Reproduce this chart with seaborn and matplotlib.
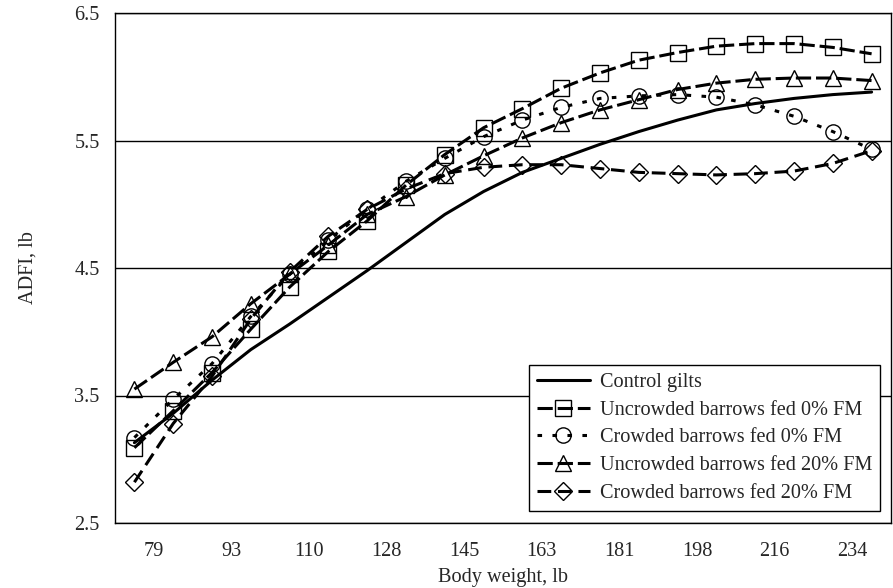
import matplotlib
matplotlib.use("Agg")
import matplotlib.pyplot as plt
import numpy as np
import pandas as pd
import seaborn as sns

tick_labels = ["79", "93", "110", "128", "145", "163", "181", "198", "216", "234"]

control_gilts = [3.13, 3.36, 3.62, 3.86, 4.06, 4.27, 4.48, 4.70, 4.92, 5.10,
                 5.25, 5.36, 5.47, 5.57, 5.66, 5.74, 5.79, 5.83, 5.86, 5.88]
uncrowded_0 = [3.09, 3.38, 3.68, 4.02, 4.35, 4.63, 4.87, 5.15, 5.39, 5.60,
               5.75, 5.91, 6.03, 6.13, 6.19, 6.24, 6.26, 6.26, 6.23, 6.18]
crowded_0 = [3.17, 3.47, 3.75, 4.12, 4.45, 4.72, 4.96, 5.18, 5.36, 5.53,
             5.66, 5.76, 5.83, 5.85, 5.86, 5.84, 5.78, 5.69, 5.57, 5.43]
uncrowded_20 = [3.55, 3.76, 3.96, 4.22, 4.45, 4.68, 4.92, 5.06, 5.23, 5.38,
                5.52, 5.64, 5.74, 5.82, 5.90, 5.95, 5.98, 5.99, 5.99, 5.97]
crowded_20 = [2.82, 3.28, 3.65, 4.10, 4.47, 4.75, 4.96, 5.12, 5.24, 5.29,
              5.31, 5.31, 5.28, 5.25, 5.24, 5.23, 5.24, 5.26, 5.32, 5.42]

labels = [
    "Control gilts",
    "Uncrowded barrows fed 0% FM",
    "Crowded barrows fed 0% FM",
    "Uncrowded barrows fed 20% FM",
    "Crowded barrows fed 20% FM",
]

sns.set_theme(style="white")
plt.rcParams["font.family"] = ["Liberation Serif", "DejaVu Serif"]
fs = 14.6

# 20 body-weight points, labels on every second one (category axis)
pos = np.arange(len(control_gilts))

fig, ax = plt.subplots(figsize=(8.93, 5.88), dpi=100)
fig.subplots_adjust(left=115 / 893, right=891 / 893, top=1 - 13 / 588, bottom=1 - 523 / 588)

styles = [
    (control_gilts, None, "-", 11),
    (uncrowded_0, "s", (0, (5, 1.6)), 11),
    (crowded_0, "o", (0, (1.5, 3.4)), 11),
    (uncrowded_20, "^", (0, (5, 1.6)), 12),
    (crowded_20, "D", (0, (4.5, 2.2)), 9.5),
]

for (vals, marker, ls, ms), lab in zip(styles, labels):
    df = pd.DataFrame({"pos": pos, "adfi": vals})
    kw = {}
    if marker:
        kw = dict(marker=marker, markersize=ms, markerfacecolor="none",
                  markeredgecolor="black", markeredgewidth=1.0)
    sns.lineplot(data=df, x="pos", y="adfi", ax=ax, color="black",
                 linewidth=2.2, linestyle=ls, label=lab, **kw)

ax.set_xlim(-0.5, 19.5)
ax.set_ylim(2.5, 6.5)
ax.set_yticks([2.5, 3.5, 4.5, 5.5, 6.5])
ax.set_yticklabels(["2.5", "3.5", "4.5", "5.5", "6.5"])
ax.yaxis.grid(True, color="black", linewidth=1.0)
ax.xaxis.grid(False)

ax.set_xticks(np.arange(-0.5, 20, 2))
ax.set_xticklabels([])
ax.set_xticks(np.arange(0.5, 20, 2), minor=True)
ax.set_xticklabels(tick_labels, minor=True)
ax.tick_params(axis="x", which="major", direction="out", length=5, width=1, color="black")
ax.tick_params(axis="x", which="minor", length=0, pad=14, labelsize=fs)
ax.tick_params(axis="y", direction="out", length=6, width=1, color="black", pad=5, labelsize=fs)

for sp in ax.spines.values():
    sp.set_color("black")
    sp.set_linewidth(1.0)

ax.set_xlabel("Body weight, lb", fontsize=fs)
ax.set_ylabel("ADFI, lb", fontsize=fs)
ax.xaxis.set_label_coords(0.5, -0.088)
ax.yaxis.set_label_coords(-0.10, 0.5)

leg = ax.legend(loc="lower right", bbox_to_anchor=(0.986, 0.0235), borderaxespad=0,
                fontsize=fs, frameon=True, fancybox=False, framealpha=1,
                edgecolor="black", handlelength=2.6, handletextpad=0.5,
                labelspacing=0.42, borderpad=0.4)
leg.get_frame().set_linewidth(1.0)

plt.savefig("out.png", dpi=100)
